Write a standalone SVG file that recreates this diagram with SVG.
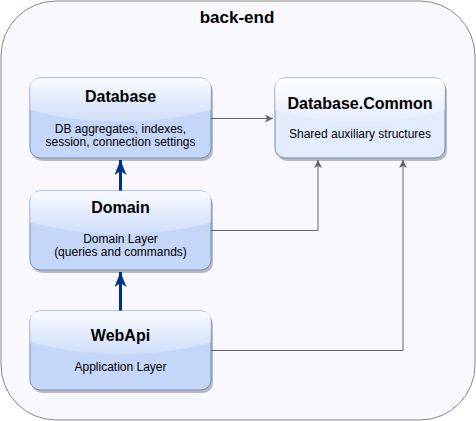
<svg xmlns="http://www.w3.org/2000/svg" width="476" height="421" viewBox="0 0 476 421">
  <style>
    .title { font-family: "Liberation Sans", Arial, Helvetica, sans-serif; font-weight: bold; font-size: 16px; fill: #000; text-anchor: middle; }
    .sub { font-family: "Liberation Sans", Arial, Helvetica, sans-serif; font-size: 12px; fill: #000; text-anchor: middle; }
    .box { stroke: #6c8ebf; stroke-width: 1; }
    .blue { fill: #c5d7f8; }
    .light { fill: #e2ecfc; }
    .shadow { fill: #000; opacity: 0.25; }
    .gloss { fill: url(#glossGrad); }
    .thin { fill: none; stroke: #666; stroke-width: 1; }
    .thick { fill: none; stroke: #00308a; stroke-width: 3; }
  </style>
  <defs>
    <linearGradient id="glossGrad" x1="0" y1="0" x2="0" y2="1.09">
      <stop offset="0" stop-color="#fff" stop-opacity="0.9"/>
      <stop offset="1" stop-color="#fff" stop-opacity="0.1"/>
    </linearGradient>
    <marker id="arrGray" markerWidth="10" markerHeight="10" refX="8" refY="4" orient="auto" markerUnits="userSpaceOnUse" viewBox="0 0 10 8">
      <path d="M0,0 L8,4 L0,8 L2,4 Z" fill="#666"/>
    </marker>
    <marker id="arrBlue" markerWidth="16" markerHeight="12" refX="15" refY="6" orient="auto" markerUnits="userSpaceOnUse" viewBox="0 0 16 12">
      <path d="M0,0 L15,6 L0,12 L4,6 Z" fill="#00308a"/>
    </marker>
  </defs>

  <g id="back-end">
    <rect x="1" y="1" width="474" height="419" rx="55" ry="55" fill="#f8f8fe" stroke="#888" stroke-width="1"/>
    <text x="237" y="23" class="title" style="font-size:17px">back-end</text>
  </g>

  <g id="connectors">
    <path class="thin" d="M211,118.5 L273,118.5" marker-end="url(#arrGray)"/>
    <path class="thin" d="M211,230.5 L318,230.5 L318,160" marker-end="url(#arrGray)"/>
    <path class="thin" d="M211,350.5 L403,350.5 L403,160" marker-end="url(#arrGray)"/>
    <path class="thick" d="M120.5,191 L120.5,160" marker-end="url(#arrBlue)"/>
    <path class="thick" d="M120.5,311 L120.5,272" marker-end="url(#arrBlue)"/>
  </g>

  <g id="database">
    <rect class="shadow" x="32" y="81" width="181" height="80" rx="10"/>
    <rect class="box blue" x="30" y="78" width="181" height="80" rx="10"/>
    <path class="gloss" d="M40,78 Q30,78 30,88 L30,110 Q120.5,134 211,110 L211,88 Q211,78 201,78 Z"/>
    <text x="120.5" y="102" class="title">Database</text>
    <text x="120.5" y="133" class="sub">DB aggregates, indexes,</text>
    <text x="120.5" y="146" class="sub">session, connection settings</text>
  </g>

  <g id="database-common">
    <rect class="shadow" x="277" y="81" width="170" height="80" rx="10"/>
    <rect class="box light" x="275" y="78" width="170" height="80" rx="10"/>
    <path class="gloss" d="M285,78 Q275,78 275,88 L275,110 Q360,134 445,110 L445,88 Q445,78 435,78 Z"/>
    <text x="360" y="109" class="title">Database.Common</text>
    <text x="360" y="138" class="sub">Shared auxiliary structures</text>
  </g>

  <g id="domain">
    <rect class="shadow" x="32" y="194" width="181" height="79" rx="10"/>
    <rect class="box blue" x="30" y="191" width="181" height="79" rx="10"/>
    <path class="gloss" d="M40,191 Q30,191 30,201 L30,222.6 Q120.5,246.3 211,222.6 L211,201 Q211,191 201,191 Z"/>
    <text x="120.5" y="213" class="title">Domain</text>
    <text x="120.5" y="243" class="sub">Domain Layer</text>
    <text x="120.5" y="256" class="sub">(queries and commands)</text>
  </g>

  <g id="webapi">
    <rect class="shadow" x="32" y="314" width="181" height="79" rx="10"/>
    <rect class="box blue" x="30" y="311" width="181" height="79" rx="10"/>
    <path class="gloss" d="M40,311 Q30,311 30,321 L30,342.6 Q120.5,366.3 211,342.6 L211,321 Q211,311 201,311 Z"/>
    <text x="120.5" y="341" class="title">WebApi</text>
    <text x="120.5" y="371" class="sub">Application Layer</text>
  </g>
</svg>
